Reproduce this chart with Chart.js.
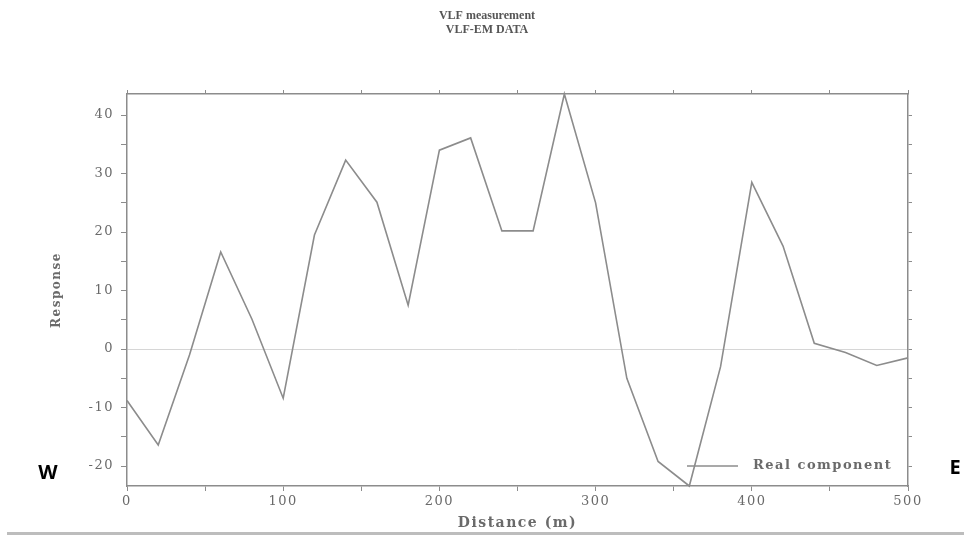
<!DOCTYPE html>
<html>
<head>
<meta charset="utf-8">
<script src="https://cdn.jsdelivr.net/npm/chart.js@4.4.1/dist/chart.umd.min.js"></script>
<style>
  html, body { margin: 0; padding: 0; background: #fff; }
  #wrap { position: relative; width: 964px; height: 536px; }
  #rule { position: absolute; left: 7px; right: 0; top: 532px; height: 3px; background: #bdbdbd; }
</style>
</head>
<body>
<div id="wrap">
  <canvas id="chart" width="964" height="536"></canvas>
  <div id="rule"></div>
</div>
<script>
// distance along the profile (m)
const distance = [0, 20, 40, 60, 80, 100, 120, 140, 160, 180, 200, 220, 240,
                  260, 280, 300, 320, 340, 360, 380, 400, 420, 440, 460, 480, 500];
// real component of VLF response
const realComponent = [-8.8, -16.4, -1.0, 16.6, 5.1, -8.4, 19.5, 32.3, 25.1, 7.5, 34.0, 36.1, 20.2,
                       20.2, 43.6, 25.0, -5.0, -19.2, -23.4, -3.0, 28.5, 17.6, 1.0, -0.6, -2.8, -1.5];
const xTicks = [0, 50, 100, 150, 200, 250, 300, 350, 400, 450, 500];
const yTicks = [-20, -15, -10, -5, 0, 5, 10, 15, 20, 25, 30, 35, 40];

const titleLines = ['VLF measurement', 'VLF-EM DATA'];
const seriesName = 'Real component';

const GREY = '#8c8c8c';
const TEXT = '#6a6a6a';
const SERIF = "'DejaVu Serif', 'Liberation Serif', serif";

function setTicks(list) {
  return scale => { scale.ticks = list.map(v => ({ value: v })); };
}
function xLabel(v) { return v % 100 === 0 ? String(v) : ''; }
function yLabel(v) { return v % 10 === 0 ? String(v) : ''; }

// the scanned figure has loosely spaced lettering
const spacing = {
  id: 'spacing',
  beforeUpdate(chart) { chart.ctx.letterSpacing = '1.5px'; },
  beforeDraw(chart) { chart.ctx.letterSpacing = '1.5px'; }
};

const extras = {
  id: 'extras',
  afterDraw(chart) {
    const { ctx, chartArea } = chart;
    ctx.save();
    ctx.letterSpacing = '0px';
    // title
    ctx.fillStyle = '#555';
    ctx.textAlign = 'center';
    ctx.textBaseline = 'middle';
    ctx.font = "bold 12px 'Liberation Serif', serif";
    ctx.fillText(titleLines[0], 487, 16);
    ctx.fillText(titleLines[1], 487, 30);
    // legend inside plot
    const ly = chartArea.bottom - 20;
    ctx.strokeStyle = GREY;
    ctx.lineWidth = 1.5;
    ctx.beginPath();
    ctx.moveTo(687, ly);
    ctx.lineTo(738, ly);
    ctx.stroke();
    ctx.fillStyle = TEXT;
    ctx.textAlign = 'left';
    ctx.letterSpacing = '1.5px';
    ctx.font = 'bold 13px ' + SERIF;
    ctx.fillText(seriesName, 753, ly);
    // W / E direction markers
    ctx.letterSpacing = '0px';
    ctx.fillStyle = '#000';
    ctx.font = 'bold 20px "Open Sans", "Liberation Sans", sans-serif';
    ctx.textAlign = 'center';
    ctx.fillText('W', 48, 473);
    ctx.fillText('E', 955, 468);
    ctx.restore();
  }
};

const tickFont = { family: SERIF, size: 13 };

new Chart(document.getElementById('chart'), {
  type: 'line',
  data: {
    datasets: [{
      label: seriesName,
      data: distance.map((d, i) => ({ x: d, y: realComponent[i] })),
      borderColor: GREY,
      borderWidth: 1.6,
      pointRadius: 0,
      tension: 0,
      clip: false
    }]
  },
  options: {
    responsive: false,
    animation: false,
    layout: { padding: 0 },
    plugins: { legend: { display: false }, tooltip: { enabled: false }, title: { display: false } },
    scales: {
      x: {
        type: 'linear', position: 'bottom', min: 0, max: 500,
        afterFit: s => { s.height = 50; },
        afterBuildTicks: setTicks(xTicks),
        border: { display: true, color: GREY, width: 1.5 },
        grid: { drawOnChartArea: false, color: GREY, tickLength: 5 },
        ticks: { color: TEXT, font: tickFont, maxRotation: 0, autoSkip: false, padding: 3, callback: xLabel },
        title: { display: true, text: 'Distance (m)', color: TEXT, font: { family: SERIF, size: 14, weight: 'bold' }, padding: { top: 0 } }
      },
      x2: {
        type: 'linear', position: 'top', min: 0, max: 500,
        afterFit: s => { s.height = 94; },
        afterBuildTicks: setTicks(xTicks),
        border: { display: true, color: GREY, width: 1.5 },
        grid: { drawOnChartArea: false, color: GREY, tickLength: 4 },
        ticks: { display: false }
      },
      y: {
        type: 'linear', position: 'left', min: -23.4, max: 43.6,
        afterFit: s => { s.width = 127; },
        afterBuildTicks: setTicks(yTicks),
        border: { display: true, color: GREY, width: 1.5 },
        grid: {
          drawOnChartArea: true, tickLength: 6,
          color: c => (c.tick && c.tick.value === 0) ? '#d6d6d6' : 'rgba(0,0,0,0)',
          tickColor: GREY
        },
        ticks: { color: TEXT, font: tickFont, autoSkip: false, padding: 7, callback: yLabel },
        title: { display: true, text: 'Response', color: TEXT, font: { family: SERIF, size: 12, weight: 'bold' }, padding: { top: 50, bottom: 0 } }
      },
      y2: {
        type: 'linear', position: 'right', min: -23.4, max: 43.6,
        afterFit: s => { s.width = 56; },
        afterBuildTicks: setTicks(yTicks),
        border: { display: true, color: GREY, width: 1.5 },
        grid: { drawOnChartArea: false, color: GREY, tickLength: 4 },
        ticks: { display: false }
      }
    }
  },
  plugins: [spacing, extras]
});
</script>
</body>
</html>
